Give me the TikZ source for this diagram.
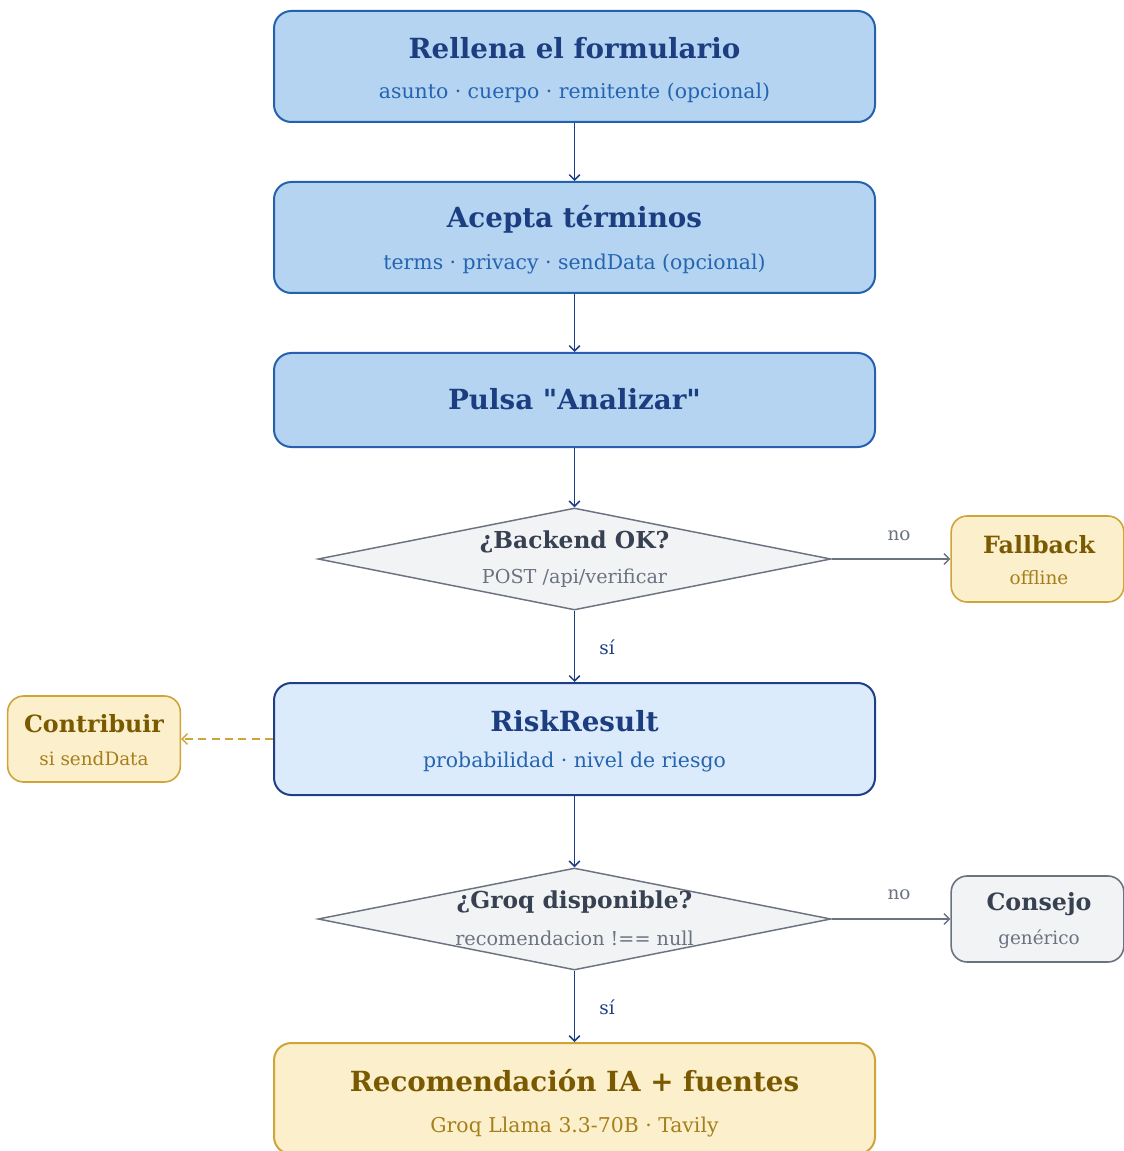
\documentclass[tikz,border=0pt]{standalone}
\usepackage{fontspec}
\setmainfont{DejaVu Serif}[Ligatures=TeXOff]
\usetikzlibrary{shapes.geometric,arrows.meta}

\definecolor{bluefill}{HTML}{B4D4F2}
\definecolor{blueline}{HTML}{2462AE}
\definecolor{bluetitle}{HTML}{1C3E80}
\definecolor{bluesub}{HTML}{2464B0}
\definecolor{lightfill}{HTML}{DCEBFB}
\definecolor{navy}{HTML}{1E3F86}
\definecolor{grayfill}{HTML}{F2F3F5}
\definecolor{grayline}{HTML}{6B7280}
\definecolor{graytitle}{HTML}{374151}
\definecolor{goldfill}{HTML}{FCEFCB}
\definecolor{goldline}{HTML}{CFA53A}
\definecolor{goldtitle}{HTML}{7A5A00}
\definecolor{goldsub}{HTML}{A57F1C}

\begin{document}
\begin{tikzpicture}[x=0.75pt,y=-0.75pt,
  wide/.style={rounded corners=13pt, line width=1.5pt, inner sep=0pt,
    minimum width=450.75pt, minimum height=83.25pt},
  stepbox/.style={wide, draw=blueline, fill=bluefill},
  resultbox/.style={wide, draw=navy, fill=lightfill},
  finalbox/.style={wide, draw=goldline, fill=goldfill},
  sidebox/.style={rounded corners=12pt, line width=1.2pt, inner sep=0pt,
    minimum width=129.5pt, minimum height=64.5pt},
  goldside/.style={sidebox, draw=goldline, fill=goldfill},
  grayside/.style={sidebox, draw=grayline, fill=grayfill},
  decision/.style={shape=diamond, draw=grayline, fill=grayfill, line width=1.1pt,
    inner sep=0pt, minimum width=384.75pt, minimum height=76.5pt},
  ttl/.style={inner sep=0pt, font=\fontsize{20.8}{24}\selectfont\bfseries},
  sub/.style={inner sep=0pt, font=\fontsize{15.3}{18}\selectfont},
  dtitle/.style={inner sep=0pt, font=\fontsize{17.5}{20}\selectfont\bfseries, text=graytitle},
  dsub/.style={inner sep=0pt, font=\fontsize{14.4}{17}\selectfont, text=grayline},
  stitle/.style={inner sep=0pt, font=\fontsize{17.8}{20}\selectfont\bfseries},
  ssub/.style={inner sep=0pt, font=\fontsize{13.8}{16}\selectfont},
  edgelabel/.style={inner sep=0pt, font=\fontsize{13.8}{16}\selectfont},
  flow/.style={draw=navy, line width=1.1pt, -{Straight Barb[length=4pt,width=8pt]}},
  grayflow/.style={draw=grayline, line width=1.1pt, -{Straight Barb[length=4pt,width=8pt]}},
  dashflow/.style={draw=goldline, line width=1.1pt, dash pattern=on 6pt off 4pt,
    -{Straight Barb[length=4pt,width=8pt]}}
]
\useasboundingbox (0,0) rectangle (1123,1151);

% main column of steps
\node[stepbox] (form) at (574.5,66.5) {};
\node[ttl, text=bluetitle] (formT) at (574.5,48) {Rellena el formulario};
\node[sub, text=bluesub] (formS) at (574.5,93) {asunto · cuerpo · remitente (opcional)};

\node[stepbox] (terms) at (574.5,237.5) {};
\node[ttl, text=bluetitle] (termsT) at (574.5,219) {Acepta términos};
\node[sub, text=bluesub] (termsS) at (574.5,264) {terms · privacy · sendData (opcional)};

\node[stepbox, minimum height=70.5pt] (press) at (574.5,400) {};
\node[ttl, text=bluetitle] (pressT) at (574.5,399) {Pulsa "Analizar"};

% first decision
\node[decision] (backend) at (574.5,559) {};
\node[dtitle] (backendT) at (574.5,542) {¿Backend OK?};
\node[dsub] (backendS) at (574.5,578) {POST /api/verificar};

\node[goldside] (fallback) at (1037.5,559) {};
\node[stitle, text=goldtitle] (fallbackT) at (1039,545) {Fallback};
\node[ssub, text=goldsub] (fallbackS) at (1039,578) {offline};

% analysis result
\node[resultbox, minimum height=84pt] (risk) at (574.5,739) {};
\node[ttl, text=bluetitle] (riskT) at (574.5,721) {RiskResult};
\node[sub, text=bluesub] (riskS) at (574.5,762) {probabilidad · nivel de riesgo};

\node[goldside] (contrib) at (94,739) {};
\node[stitle, text=goldtitle] (contribT) at (94,724) {Contribuir};
\node[ssub, text=goldsub] (contribS) at (94,759) {si sendData};

% second decision
\node[decision] (groq) at (574.5,919) {};
\node[dtitle] (groqT) at (574.5,902) {¿Groq disponible?};
\node[dsub] (groqS) at (574.5,938) {recomendacion !== null};

\node[grayside] (advice) at (1037.5,919) {};
\node[stitle, text=graytitle] (adviceT) at (1039,904) {Consejo};
\node[ssub, text=grayline] (adviceS) at (1039,939) {genérico};

% final recommendation
\node[finalbox] (final) at (574.5,1098.5) {};
\node[ttl, text=goldtitle] (finalT) at (574.5,1081) {Recomendación IA + fuentes};
\node[sub, text=goldsub] (finalS) at (574.5,1127) {Groq Llama 3.3-70B · Tavily};

% connectors
\draw[flow] (form) -- (terms);
\draw[flow] (terms) -- (press);
\draw[flow] (press) -- (backend);
\draw[flow] (backend) -- (risk);
\draw[grayflow] (backend) -- (fallback);
\draw[dashflow] (risk) -- (contrib);
\draw[flow] (risk) -- (groq);
\draw[grayflow] (groq) -- (advice);
\draw[flow] (groq) -- (final);

% branch labels
\node[edgelabel, text=grayline] (no1) at (899,536) {no};
\node[edgelabel, text=navy] (si1) at (607,647) {sí};
\node[edgelabel, text=grayline] (no2) at (899,895) {no};
\node[edgelabel, text=navy] (si2) at (607,1007) {sí};
\end{tikzpicture}
\end{document}
